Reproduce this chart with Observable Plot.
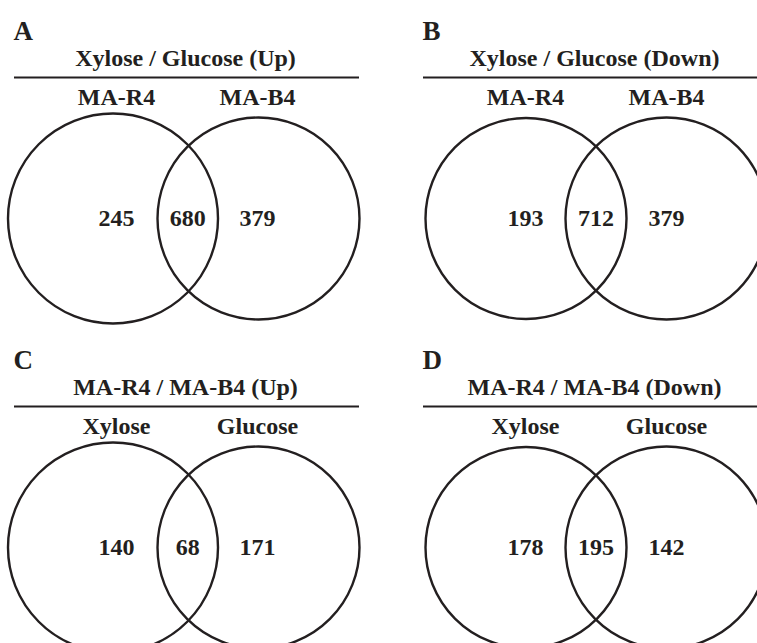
<!DOCTYPE html>
<html>
<head>
<meta charset="utf-8">
<script src="https://cdn.jsdelivr.net/npm/d3@7"></script>
<script src="https://cdn.jsdelivr.net/npm/@observablehq/plot@0.6"></script>
<style>
  html, body { margin: 0; padding: 0; background: #fff; }
  #chart svg { display: block; }
</style>
</head>
<body>
<div id="chart"></div>
<script>
// ---- data ----
const panelLetters = ["A", "B", "C", "D"];
const panelTitles = [
  "Xylose / Glucose (Up)",
  "Xylose / Glucose (Down)",
  "MA-R4 / MA-B4 (Up)",
  "MA-R4 / MA-B4 (Down)"
];
const leftSetNames  = ["MA-R4", "MA-R4", "Xylose", "Xylose"];
const rightSetNames = ["MA-B4", "MA-B4", "Glucose", "Glucose"];
const onlyLeft  = [245, 193, 140, 178];
const shared    = [680, 712, 68, 195];
const onlyRight = [379, 379, 171, 142];

// ---- layout (pixel units in a 757x643 frame) ----
const W = 757, H = 643;
const layout = {
  col: [0, 409], row: [0, 329],
  letterX: 13, letterY: 31,
  titleX: 185, titleY: 58,
  ruleY: 77, ruleX1: 14, ruleX2: 359,
  labelX1: 116, labelX2: 257, labelY: 97,
  cy: 218,
  // circle geometry per column (left column circles, right column circles)
  circ: [
    {cx1: 112.5, r1: 105, cx2: 258, r2: 101},
    {cx1: 116.5, r1: 100.5, cx2: 257, r2: 101}
  ]
};
const ink = "#231f20";
const font = "'Liberation Serif', 'Times New Roman', Times, serif";

const panels = panelLetters.map((letter, i) => {
  const c = i % 2;
  const ox = layout.col[c], oy = layout.row[Math.floor(i / 2)];
  const g = layout.circ[c];
  return {
    letter, title: panelTitles[i], ox, oy, g,
    left: leftSetNames[i], right: rightSetNames[i],
    onlyLeft: onlyLeft[i], shared: shared[i], onlyRight: onlyRight[i]
  };
});

const circles = panels.flatMap(p => [
  {x: p.ox + p.g.cx1, y: p.oy + layout.cy, r: p.g.r1},
  {x: p.ox + p.g.cx2, y: p.oy + layout.cy, r: p.g.r2}
]);
const setLabels = panels.flatMap(p => [
  {x: p.ox + layout.labelX1, y: p.oy + layout.labelY, text: p.left},
  {x: p.ox + layout.labelX2, y: p.oy + layout.labelY, text: p.right}
]);
const counts = panels.flatMap(p => {
  const lensL = p.g.cx2 - p.g.r2, lensR = p.g.cx1 + p.g.r1;
  return [
    {x: p.ox + layout.labelX1, y: p.oy + layout.cy, text: String(p.onlyLeft)},
    {x: p.ox + (lensL + lensR) / 2, y: p.oy + layout.cy, text: String(p.shared)},
    {x: p.ox + layout.labelX2, y: p.oy + layout.cy, text: String(p.onlyRight)}
  ];
});

const chart = Plot.plot({
  width: W, height: H,
  margin: 0,
  x: {domain: [0, W], range: [0, W], axis: null},
  y: {domain: [0, H], range: [0, H], axis: null},
  r: {type: "identity"},
  style: {background: "#fff", fontFamily: font},
  marks: [
    Plot.dot(circles, {x: "x", y: "y", r: "r", stroke: ink, strokeWidth: 2.4, fill: "none"}),
    Plot.ruleY(panels, {y: p => p.oy + layout.ruleY, x1: p => p.ox + layout.ruleX1, x2: p => p.ox + layout.ruleX2, stroke: ink, strokeWidth: 2}),
    Plot.text(panels, {x: p => p.ox + layout.letterX, y: p => p.oy + layout.letterY, text: "letter", textAnchor: "start", fontSize: 27, fontWeight: "bold", fill: ink, fontFamily: font}),
    Plot.text(panels, {x: p => p.ox + layout.titleX, y: p => p.oy + layout.titleY, text: "title", fontSize: 24, fontWeight: "bold", fill: ink, fontFamily: font}),
    Plot.text(setLabels, {x: "x", y: "y", text: "text", fontSize: 24, fontWeight: "bold", fill: ink, fontFamily: font}),
    Plot.text(counts, {x: "x", y: "y", text: "text", fontSize: 24, fontWeight: "bold", fill: ink, fontFamily: font})
  ]
});
document.getElementById("chart").appendChild(chart);
</script>
</body>
</html>
